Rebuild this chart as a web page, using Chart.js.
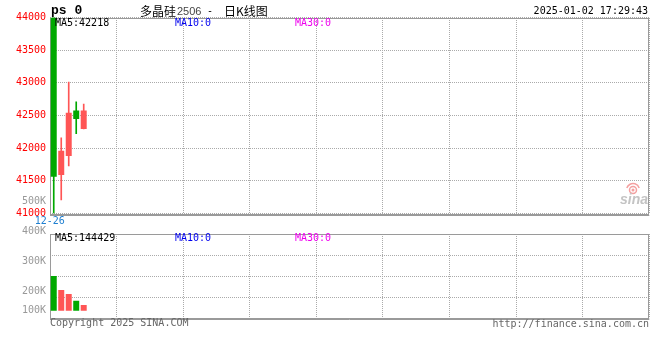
<!DOCTYPE html>
<html><head><meta charset="utf-8">
<script src="https://cdn.jsdelivr.net/npm/chart.js@4"></script>
<style>
html,body{margin:0;padding:0;background:#fff;width:660px;height:360px;overflow:hidden}
canvas{position:absolute;left:0;top:0}
</style></head><body>
<canvas id="k" width="660" height="360"></canvas>
<canvas id="v" width="660" height="360"></canvas>
<script>
// ---- data ----
const dates   = ['12-26','12-27','12-30','12-31','01-02'];
const opens   = [44000, 41589, 41880, 42575, 42293];
const highs   = [44000, 42160, 43013, 42711, 42676];
const lows    = [41000, 41207, 41727, 42221, 42293];
const closes  = [41563, 41961, 42543, 42447, 42575];
const volumes = [285400, 170200, 137400, 82200, 46945];
const priceTicks = [41000, 41500, 42000, 42500, 43000, 43500, 44000];
const volTickValues = [500000, 400000, 300000, 200000, 100000];
const volTickLabels = ['500K', '400K', '300K', '200K', '100K'];
const SLOTS = 80;
const X_DIVS = 9;
const VOL_DIVS = 4;

// ---- styles ----
const RED = '#ff5555', GREEN = '#00a800', GRID = '#aaaaaa', BORDER = '#9a9a9a';
const MONO = '"DejaVu Sans Mono", monospace';
const labels = Array.from({length: SLOTS}, (_, i) => dates[i] !== undefined ? dates[i] : '');
const candleColors = closes.map((c, i) => c >= opens[i] ? RED : GREEN);

function ma(arr, n) {
  if (arr.length < n) return 0;
  const s = arr.slice(arr.length - n).reduce((a, b) => a + b, 0);
  return Math.round(s / n);
}

function gridAxis(position, n) {
  const horiz = position === 'top';
  return {
    type: 'linear', position, min: 0, max: n, offset: false,
    afterBuildTicks: s => { s.ticks = Array.from({length: n + 1}, (_, i) => ({value: i})); },
    ticks: {display: false},
    grid: {color: GRID, drawTicks: false, offset: false},
    border: {display: false, dash: [1, 1]},
    afterFit: s => { if (horiz) s.height = 0; else s.width = 0; }
  };
}

const borderPlugin = {
  id: 'panelBorder',
  beforeDatasetsDraw(chart) {
    const a = chart.chartArea, c = chart.ctx;
    c.save();
    c.strokeStyle = BORDER; c.lineWidth = 1;
    c.strokeRect(Math.round(a.left) + 0.5, Math.round(a.top) + 0.5,
                 Math.round(a.right - a.left) - 1, Math.round(a.bottom - a.top));
    c.beginPath();
    c.moveTo(a.left, Math.round(a.bottom) + 1.5); c.lineTo(a.right, Math.round(a.bottom) + 1.5);
    c.stroke();
    c.restore();
  }
};

// ---- price (candlestick) panel ----
new Chart(document.getElementById('k'), {
  type: 'bar',
  data: {
    labels,
    datasets: [
      {data: opens.map((o, i) => [o, closes[i]]), backgroundColor: candleColors,
       borderWidth: 0, barPercentage: 0.8, categoryPercentage: 1, grouped: false,
       order: 0, xAxisID: 'x', yAxisID: 'y'},
      {data: lows.map((l, i) => [l, highs[i]]), backgroundColor: candleColors,
       borderWidth: 0, barThickness: 1, grouped: false,
       order: 1, xAxisID: 'x', yAxisID: 'y'}
    ]
  },
  options: {
    responsive: false, animation: false, devicePixelRatio: 1,
    layout: {padding: {top: 17.5, right: 10.7, bottom: 0, left: 0}},
    plugins: {legend: {display: false}, tooltip: {enabled: false}},
    scales: {
      x: {
        type: 'category', offset: true,
        grid: {display: false, drawTicks: false}, border: {display: false},
        ticks: {autoSkip: false, maxRotation: 0, color: '#1f7fd0', padding: 2,
                labelOffset: -4, font: {family: MONO, size: 10},
                callback: (v, i) => i === 0 ? labels[i] : ''},
        afterFit: s => { s.height = 146.5; }
      },
      xg: gridAxis('top', X_DIVS),
      y: {
        position: 'left', min: 41000, max: 44000,
        afterBuildTicks: s => { s.ticks = priceTicks.map(v => ({value: v})); },
        ticks: {color: '#ff0000', padding: 4, font: {family: MONO, size: 10},
                callback: v => String(v)},
        grid: {color: GRID, drawTicks: false},
        border: {display: false, dash: [1, 1]},
        afterFit: s => { s.width = 50; }
      }
    }
  },
  plugins: [borderPlugin]
});

// ---- volume panel + all texts ----
const textPlugin = {
  id: 'texts',
  afterDraw(chart) {
    const c = chart.ctx, a = chart.chartArea;
    c.save();
    c.textBaseline = 'middle';
    // header
    c.fillStyle = '#000';
    c.font = 'bold 13px "Liberation Mono", monospace';
    c.textAlign = 'left';
    c.fillText('ps 0', 51, 10.5);
    let x = 140;
    c.font = '12px "Noto Sans CJK SC"';
    c.fillText('多晶硅', x, 11); x += c.measureText('多晶硅').width;
    c.fillStyle = '#444';
    c.font = '11px "Liberation Sans"';
    c.fillText('2506', x + 1, 11.5);
    c.fillStyle = '#000';
    c.font = '10px ' + MONO;
    c.fillText('-', 207, 11);
    c.font = '12px "Noto Sans CJK SC"';
    c.fillText('日K线图', 224, 11);
    c.font = '10px ' + MONO;
    c.textAlign = 'right';
    c.fillText('2025-01-02 17:29:43', 648, 11.7);

    // MA texts
    c.textAlign = 'left';
    const maRow = (y, arr) => {
      c.fillStyle = '#000'; c.fillText('MA5:' + ma(arr, 5), 55, y);
      c.fillStyle = '#0000ee'; c.fillText('MA10:' + ma(arr, 10), 175, y);
      c.fillStyle = '#ee00ee'; c.fillText('MA30:' + ma(arr, 30), 295, y);
    };
    maRow(23.5, closes);
    maRow(238.7, volumes);

    // volume tick labels
    c.fillStyle = '#999';
    c.textAlign = 'right';
    volTickValues.forEach((v, i) => {
      const y = Math.min(350.5 - v * 0.0002975, a.bottom - 8);
      c.fillText(volTickLabels[i], 46, y);
    });

    // footer
    c.fillStyle = '#666';
    c.textAlign = 'left';
    c.fillText('Copyright 2025 SINA.COM', 50, 323.5);
    c.textAlign = 'right';
    c.fillText('http://finance.sina.com.cn', 649, 324);

    // sina watermark
    c.strokeStyle = '#f4a0a0'; c.lineWidth = 1.5;
    c.beginPath(); c.arc(633, 190, 3.5, 0, Math.PI * 2); c.stroke();
    c.beginPath(); c.arc(633, 190, 6.5, Math.PI * 1.1, Math.PI * 1.9); c.stroke();
    c.fillStyle = '#f4a0a0';
    c.beginPath(); c.arc(633, 190, 1.5, 0, Math.PI * 2); c.fill();
    c.fillStyle = '#c4c4c4';
    c.font = 'italic bold 14px "Liberation Sans"';
    c.textBaseline = 'alphabetic';
    c.textAlign = 'right';
    c.fillText('sina', 648, 204);
    c.restore();
  }
};

new Chart(document.getElementById('v'), {
  type: 'bar',
  data: {
    labels,
    datasets: [
      {data: volumes, backgroundColor: candleColors, borderWidth: 0,
       barPercentage: 0.8, categoryPercentage: 1, xAxisID: 'x', yAxisID: 'y'}
    ]
  },
  options: {
    responsive: false, animation: false, devicePixelRatio: 1,
    layout: {padding: {top: 234.3, right: 10.7, bottom: 41.7, left: 0}},
    plugins: {legend: {display: false}, tooltip: {enabled: false}},
    scales: {
      x: {type: 'category', offset: true, display: false},
      xg: gridAxis('top', X_DIVS),
      y: {
        position: 'left', min: -62500, max: 628400,
        ticks: {display: false}, grid: {display: false, drawTicks: false},
        border: {display: false},
        afterFit: s => { s.width = 50; }
      },
      yg: gridAxis('left', VOL_DIVS)
    }
  },
  plugins: [borderPlugin, textPlugin]
});
</script>
</body></html>
